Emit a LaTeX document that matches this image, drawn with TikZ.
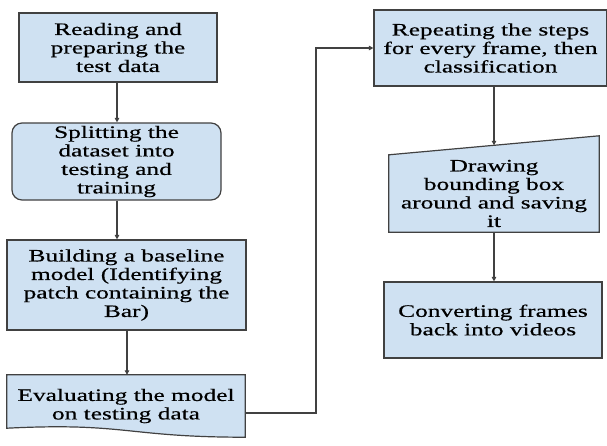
\documentclass[tikz,border=0pt]{standalone}
\usepackage{fontspec}
\setmainfont{Liberation Serif}[FakeStretch=1.45, FakeBold=0.5]
\usetikzlibrary{arrows.meta, positioning, calc}
\definecolor{boxblue}{RGB}{207,225,242}
\definecolor{edgegray}{RGB}{65,65,65}
\tikzset{
  stepbox/.style  = {rectangle, draw=edgegray, fill=boxblue, line width=1.2pt,
                     align=center, font=\fontsize{17.5}{18.5}\selectfont, inner sep=2pt},
  plain/.style    = {rectangle, align=center, font=\fontsize{17.5}{18.5}\selectfont,
                     inner sep=2pt},
  shapeline/.style= {draw=edgegray, fill=boxblue, line width=1.2pt},
  fl/.style       = {-{Triangle[length=4.5pt, width=4.5pt]}, draw=edgegray, line width=1.3pt},
}

\begin{document}
\begin{tikzpicture}[x=1pt, y=-1pt]
  \useasboundingbox (0,0) rectangle (607,445);

  \node[stepbox, minimum width=198pt, minimum height=69pt] (read) at (118,47.5)
    {Reading and\\preparing the\\test data};
  \node[stepbox, rounded corners=10pt, minimum width=209pt, minimum height=77pt] (split) at (116.5,161.5)
    {Splitting the\\dataset into\\testing and\\training};
  \node[stepbox, minimum width=239pt, minimum height=90pt] (build) at (126.5,285)
    {Building a baseline\\model (Identifying\\patch containing the\\Bar)};

  % document shape
  \node[plain, minimum width=238pt, minimum height=62pt] (eval) at (126,406) {};
  \draw[shapeline] (eval.north west) -- (eval.north east) -- (eval.south east)
    .. controls ($(eval.south)+(0,0)$) and ($(eval.south)+(0,-15)$) .. ($(eval.south west)+(0,-9)$) -- cycle;
  \node[plain] at (eval) {Evaluating the model\\on testing data};

  \node[stepbox, minimum width=233pt, minimum height=76pt] (rep) at (490.5,48)
    {Repeating the steps\\for every frame, then\\classification};

  % manual input shape
  \node[plain, minimum width=210pt, minimum height=77pt] (bbox) at (494,193.5) {};
  \draw[shapeline] (bbox.south west) -- (bbox.south east) -- ($(bbox.north east)+(0,-19)$)
    -- (bbox.north west) -- cycle;
  \node[plain] at (bbox) {Drawing\\bounding box\\around and saving\\it};

  \node[stepbox, minimum width=218pt, minimum height=76pt] (conv) at (493,320)
    {Converting frames\\back into videos};

  \coordinate (bend) at (316,413);

  \draw[fl] (read.south -| 117,0) -- (split.north -| 117,0);
  \draw[fl] (split.south -| 117,0) -- (build.north -| 117,0);
  \draw[fl] (build.south -| 127,0) -- (eval.north -| 127,0);
  \draw[fl] (eval.east |- bend) -- (bend) |- (rep.west);
  \draw[fl] (rep.south -| bbox.north) -- ($(bbox.north)+(0,-9.5)$);
  \draw[fl] (bbox.south) -- (conv.north -| bbox.south);
\end{tikzpicture}
\end{document}
